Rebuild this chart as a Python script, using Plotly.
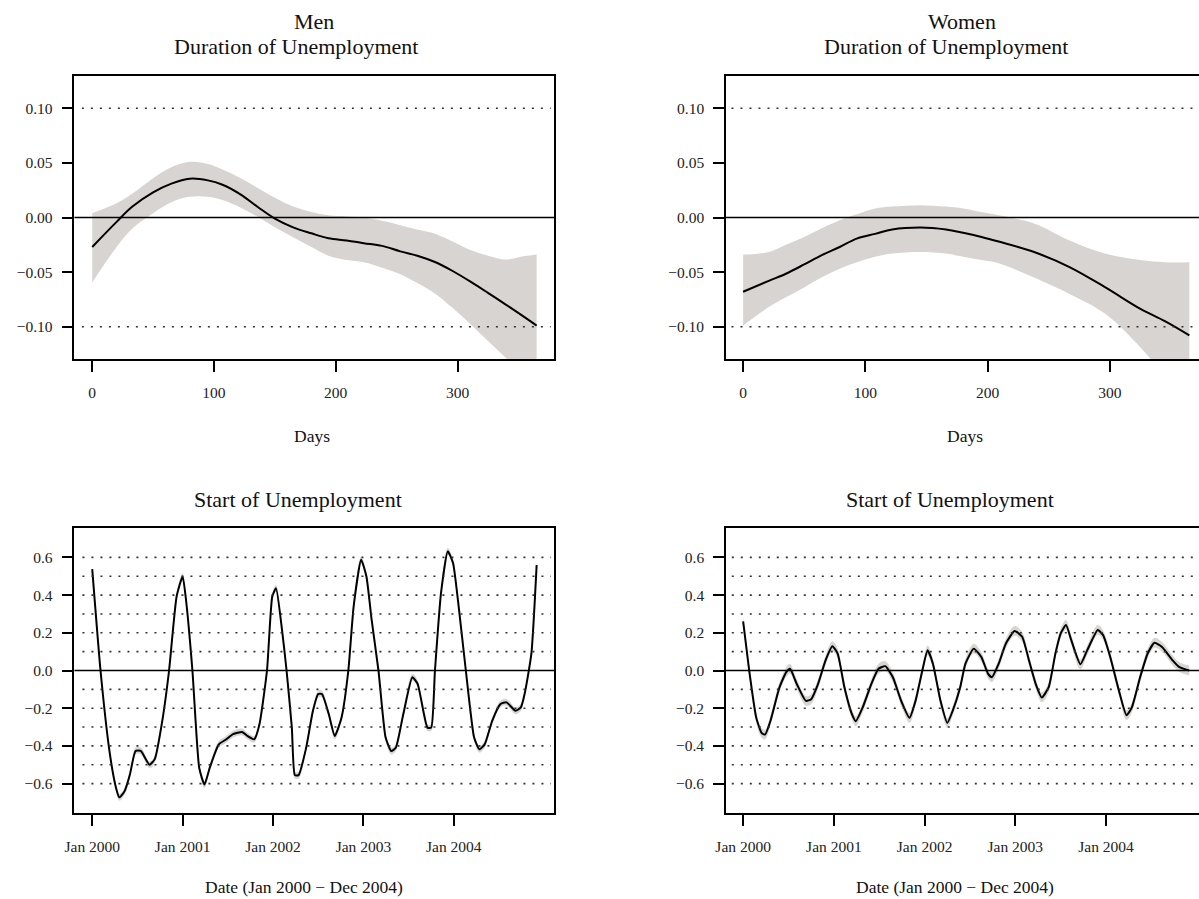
import plotly.graph_objects as go

FONT = "Liberation Serif"
W, H = 1199, 899

# ---------------- data ----------------
# Duration of unemployment (days) -- Men
men_dur_days = [0, 20, 33, 50, 65, 80, 95, 107, 122, 136, 150, 165, 180, 194, 209,
                223, 238, 253, 267, 282, 296, 311, 325, 340, 352, 365]
men_dur_fit = [-0.027, -0.004, 0.010, 0.023, 0.031, 0.0355, 0.034, 0.030, 0.021, 0.0096,
               -0.001, -0.009, -0.0145, -0.019, -0.021, -0.0235, -0.026, -0.031, -0.035,
               -0.041, -0.049, -0.059, -0.069, -0.080, -0.089, -0.099]
men_dur_upper = [0.004, 0.013, 0.022, 0.036, 0.046, 0.051, 0.049, 0.044, 0.036, 0.027,
                 0.018, 0.010, 0.005, 0.002, 0.001, 0.000, -0.003, -0.007, -0.011, -0.015,
                 -0.022, -0.030, -0.035, -0.0385, -0.036, -0.034]
men_dur_lower = [-0.0596, -0.027, -0.010, 0.004, 0.014, 0.019, 0.019, 0.016, 0.009, 0.0006,
                 -0.009, -0.018, -0.027, -0.035, -0.039, -0.041, -0.046, -0.052, -0.060,
                 -0.070, -0.083, -0.098, -0.113, -0.129, -0.145, -0.165]

# Duration of unemployment (days) -- Women
wom_dur_days = [0, 21, 35, 50, 64, 79, 93, 108, 122, 145, 166, 180, 195, 209, 238, 267,
                296, 325, 345, 365]
wom_dur_fit = [-0.068, -0.058, -0.0515, -0.043, -0.0347, -0.027, -0.0193, -0.015, -0.011,
               -0.0092, -0.011, -0.014, -0.0178, -0.022, -0.0316, -0.0454, -0.0638,
               -0.0837, -0.095, -0.108]
wom_dur_upper = [-0.034, -0.0316, -0.025, -0.0178, -0.010, -0.0025, 0.003, 0.0083, 0.010,
                 0.0113, 0.010, 0.0083, 0.005, 0.002, -0.0055, -0.021, -0.033, -0.039,
                 -0.041, -0.041]
wom_dur_lower = [-0.099, -0.082, -0.073, -0.064, -0.055, -0.047, -0.041, -0.036, -0.033,
                 -0.0316, -0.033, -0.036, -0.039, -0.042, -0.055, -0.070, -0.088, -0.119,
                 -0.145, -0.170]

# Start of unemployment (months since Jan 2000) -- Men
men_start_month = [0, 1.1, 2.35, 3.16, 3.6, 4.3, 5.0, 5.75, 6.45, 7.6, 8.3, 9.3, 10.2, 11.2,
                   12.0, 12.4, 13.3, 14.2, 14.9, 15.6, 16.8, 17.8, 18.7, 19.9, 20.6, 21.5,
                   22.2, 23.2, 23.9, 24.4, 25.2, 25.8, 26.5, 26.9, 27.4, 28.4, 29.3, 30.0,
                   30.5, 31.4, 32.2, 33.1, 34.0, 34.7, 35.7, 36.4, 37.1, 38.0, 38.95, 39.7,
                   40.3, 41.3, 42.5, 43.2, 44.5, 45.0, 45.5, 46.3, 47.2, 47.9, 48.6, 49.6,
                   50.7, 51.4, 52.1, 53.1, 54.2, 55.0, 56.2, 56.9, 57.4, 58.3, 59.0]
men_start_fit = [0.538, 0.0, -0.445, -0.623, -0.673, -0.64, -0.552, -0.427, -0.427, -0.50,
                 -0.47, -0.267, 0.0, 0.392, 0.499, 0.392, 0.0, -0.516, -0.605, -0.516,
                 -0.392, -0.365, -0.338, -0.326, -0.347, -0.365, -0.285, 0.0, 0.392, 0.436,
                 0.214, 0.0, -0.303, -0.555, -0.555, -0.41, -0.214, -0.125, -0.125, -0.231,
                 -0.347, -0.249, 0.0, 0.338, 0.587, 0.499, 0.267, 0.0, -0.356, -0.427,
                 -0.41, -0.231, -0.036, -0.071, -0.303, -0.303, 0.0, 0.41, 0.632, 0.57,
                 0.356, 0.0, -0.356, -0.418, -0.392, -0.267, -0.178, -0.169, -0.214,
                 -0.196, -0.125, 0.089, 0.56]
men_start_se = 0.018

# Start of unemployment -- Women
wom_start_month = [0, 0.8, 1.73, 2.44, 2.9, 3.6, 4.8, 5.7, 6.2, 7.1, 8.3, 9.0, 9.9, 10.9,
                   11.8, 12.5, 13.4, 14.4, 14.9, 15.8, 16.95, 17.9, 18.8, 19.8, 20.9, 22.0,
                   22.8, 23.7, 24.4, 25.1, 26.1, 27.0, 27.7, 28.7, 29.4, 30.5, 31.5, 32.4,
                   32.9, 33.8, 34.75, 35.9, 36.9, 37.8, 38.7, 39.5, 40.4, 41.3, 42.0, 42.7,
                   43.4, 44.6, 45.5, 46.9, 47.6, 48.55, 49.7, 50.7, 51.4, 52.5, 53.5, 54.4,
                   55.4, 56.8, 57.7, 59.0]
wom_start_fit = [0.26, 0.0, -0.25, -0.331, -0.34, -0.269, -0.09, -0.009, 0.009, -0.072,
                 -0.161, -0.152, -0.072, 0.054, 0.129, 0.09, -0.09, -0.233, -0.269, -0.197,
                 -0.072, 0.009, 0.023, -0.036, -0.161, -0.251, -0.161, 0.0, 0.107, 0.036,
                 -0.161, -0.278, -0.215, -0.09, 0.036, 0.116, 0.072, -0.018, -0.036, 0.036,
                 0.143, 0.21, 0.179, 0.054, -0.072, -0.143, -0.09, 0.09, 0.197, 0.242,
                 0.161, 0.033, 0.107, 0.215, 0.188, 0.072, -0.107, -0.237, -0.197, -0.036,
                 0.09, 0.147, 0.125, 0.054, 0.018, 0.0]
wom_start_se = 0.026

dur_ticks = [0, 100, 200, 300]
start_tick_vals = [0, 12, 24, 36, 48]
start_tick_text = ["Jan 2000", "Jan 2001", "Jan 2002", "Jan 2003", "Jan 2004"]
dur_ytick_vals = [-0.10, -0.05, 0.0, 0.05, 0.10]
dur_ytick_text = ["\u22120.10", "\u22120.05", "0.00", "0.05", "0.10"]
start_ytick_vals = [-0.6, -0.4, -0.2, 0.0, 0.2, 0.4, 0.6]
start_ytick_text = ["\u22120.6", "\u22120.4", "\u22120.2", "0.0", "0.2", "0.4", "0.6"]
dur_dotted = [-0.10, 0.10]
start_dotted = [-0.6, -0.5, -0.4, -0.3, -0.2, -0.1, 0.1, 0.2, 0.3, 0.4, 0.5, 0.6]

# ---------------- figure ----------------
BAND = "#d8d4d2"
fig = go.Figure()

def px_x(p):
    return p / W

def px_y(p):
    return 1 - p / H

def add_band(x, lo, hi, xa, ya, shape):
    fig.add_trace(go.Scatter(x=x, y=lo, mode="lines", line=dict(width=0, shape=shape),
                             xaxis=xa, yaxis=ya, hoverinfo="skip", showlegend=False))
    fig.add_trace(go.Scatter(x=x, y=hi, mode="lines", line=dict(width=0, shape=shape),
                             fill="tonexty", fillcolor=BAND, xaxis=xa, yaxis=ya,
                             hoverinfo="skip", showlegend=False))

def add_line(x, y, xa, ya, shape, smooth=1.0):
    fig.add_trace(go.Scatter(x=x, y=y, mode="lines",
                             line=dict(color="black", width=2, shape=shape, smoothing=smooth),
                             xaxis=xa, yaxis=ya, showlegend=False))

# top-left
add_band(men_dur_days, men_dur_lower, men_dur_upper, "x", "y", "spline")
add_line(men_dur_days, men_dur_fit, "x", "y", "spline")
# top-right
add_band(wom_dur_days, wom_dur_lower, wom_dur_upper, "x2", "y2", "spline")
add_line(wom_dur_days, wom_dur_fit, "x2", "y2", "spline")
# bottom-left
add_band(men_start_month, [v - men_start_se for v in men_start_fit],
         [v + men_start_se for v in men_start_fit], "x3", "y3", "spline")
add_line(men_start_month, men_start_fit, "x3", "y3", "spline", 0.5)
# bottom-right
add_band(wom_start_month, [v - wom_start_se for v in wom_start_fit],
         [v + wom_start_se for v in wom_start_fit], "x4", "y4", "spline")
add_line(wom_start_month, wom_start_fit, "x4", "y4", "spline", 0.5)

tickfont = dict(family=FONT, size=15.5, color="#222")
common_x = dict(showline=True, linecolor="black", linewidth=1.5, ticks="outside",
                ticklen=11, tickwidth=1.5, tickcolor="black", showgrid=False,
                zeroline=False, tickfont=tickfont, ticklabelstandoff=8)
common_y = dict(showline=True, linecolor="black", linewidth=1.5, ticks="outside",
                ticklen=11, tickwidth=1.5, tickcolor="black", showgrid=False,
                zeroline=False, tickfont=tickfont, ticklabelstandoff=6)

L0, L1 = 65, 549
R0 = 722
top_dom = [px_y(359), px_y(76)]
bot_dom = [px_y(813), px_y(528)]

fig.update_layout(
    width=W, height=H, margin=dict(l=0, r=0, t=0, b=0),
    paper_bgcolor="white", plot_bgcolor="white", showlegend=False,
    xaxis=dict(common_x, domain=[px_x(L0), px_x(L1)], range=[-14.6, 379.6],
               tickvals=dur_ticks, mirror=True, anchor="y"),
    yaxis=dict(common_y, domain=top_dom, range=[-0.1296, 0.1296],
               tickvals=dur_ytick_vals, ticktext=dur_ytick_text, mirror=True, anchor="x"),
    xaxis2=dict(common_x, domain=[px_x(R0), 1.0], range=[-14.0, 372.9],
                tickvals=dur_ticks, mirror=True, anchor="y2"),
    yaxis2=dict(common_y, domain=top_dom, range=[-0.1296, 0.1296],
                tickvals=dur_ytick_vals, ticktext=dur_ytick_text, mirror=False, anchor="x2"),
    xaxis3=dict(common_x, domain=[px_x(L0), px_x(L1)], range=[-2.36, 61.36],
                tickvals=start_tick_vals, ticktext=start_tick_text, mirror=True, anchor="y3"),
    yaxis3=dict(common_y, domain=bot_dom, range=[-0.756, 0.756],
                tickvals=start_ytick_vals, ticktext=start_ytick_text, mirror=True, anchor="x3"),
    xaxis4=dict(common_x, domain=[px_x(R0), 1.0], range=[-2.27, 60.29],
                tickvals=start_tick_vals, ticktext=start_tick_text, mirror=True, anchor="y4"),
    yaxis4=dict(common_y, domain=bot_dom, range=[-0.756, 0.756],
                tickvals=start_ytick_vals, ticktext=start_ytick_text, mirror=False, anchor="x4"),
)

DOT = dict(color="#333", width=1.6, dash="2px,7px")
ZERO = dict(color="black", width=1.5)
for xa, ya, levels, x0, x1 in [("x", "y", dur_dotted, -8.5, 376.5),
                               ("x2", "y2", dur_dotted, -9.5, 380),
                               ("x3", "y3", start_dotted, -1.3, 60.9),
                               ("x4", "y4", start_dotted, -1.5, 62)]:
    for v in levels:
        fig.add_shape(type="line", xref=xa, yref=ya, x0=x0, x1=x1, y0=v, y1=v, line=DOT)
    fig.add_shape(type="line", xref=xa + " domain", yref=ya, x0=0, x1=1, y0=0, y1=0, line=ZERO)

def text(s, xp, yp, size):
    fig.add_annotation(text=s, x=px_x(xp), y=px_y(yp), xref="paper", yref="paper",
                       showarrow=False, xanchor="center", yanchor="middle",
                       font=dict(family=FONT, size=size, color="#111"))

TS = 22
text("Men", 307, 22, TS)
text("Duration of Unemployment", 288, 46, TS)
text("Women", 960, 22, TS)
text("Duration of Unemployment", 944, 46, TS)
text("Start of Unemployment", 290, 500, TS)
text("Start of Unemployment", 948, 500, TS)
text("Days", 305, 436, 17.5)
text("Days", 963, 436, 17.5)
text("Date (Jan 2000 \u2212 Dec 2004)", 296, 887, 17.5)
text("Date (Jan 2000 \u2212 Dec 2004)", 953, 887, 17.5)

fig.write_html("out.html", config={"displayModeBar": False},
               post_script="document.body.style.margin='0';document.body.style.overflow='hidden';")
